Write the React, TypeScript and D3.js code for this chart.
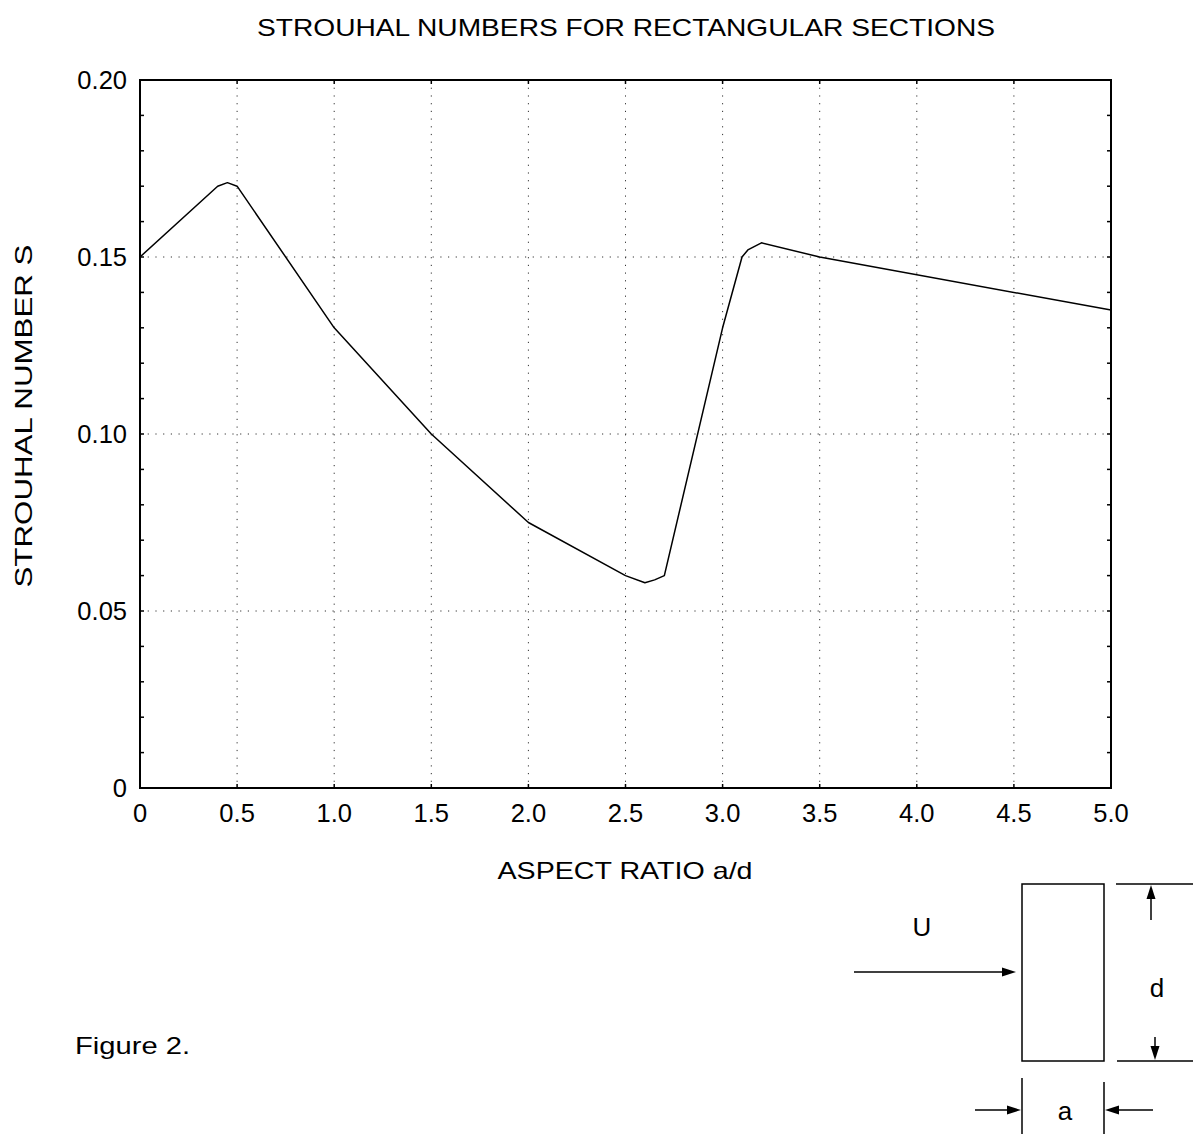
import React from "react";
import * as d3 from "d3";

// aspect ratio a/d vs Strouhal number
const ratio = [0, 0.4, 0.45, 0.5, 1.0, 1.5, 2.0, 2.5, 2.6, 2.65, 2.7, 3.0, 3.1, 3.13, 3.2, 3.5, 5.0];
const strouhal = [0.15, 0.17, 0.171, 0.17, 0.13, 0.1, 0.075, 0.06, 0.058, 0.0588, 0.06, 0.13, 0.15, 0.152, 0.154, 0.15, 0.135];

const xTicks = [0, 0.5, 1.0, 1.5, 2.0, 2.5, 3.0, 3.5, 4.0, 4.5, 5.0];
const yTicks = [0, 0.05, 0.1, 0.15, 0.2];
const yMinor = d3.range(0, 21).map((i) => i / 100);

const title = "STROUHAL NUMBERS FOR RECTANGULAR SECTIONS";
const xTitle = "ASPECT RATIO a/d";
const yTitle = "STROUHAL NUMBER S";

const W = 1199;
const H = 1134;
const left = 140, right = 1111, top = 80, bottom = 788;
const font = "'Liberation Sans', Arial, sans-serif";

function Arrow({ x1, y1, x2, y2 }: { x1: number; y1: number; x2: number; y2: number }) {
  // line with a filled head at (x2,y2)
  const ang = Math.atan2(y2 - y1, x2 - x1);
  const len = 14, half = 4.5;
  const bx = x2 - len * Math.cos(ang), by = y2 - len * Math.sin(ang);
  const px = -Math.sin(ang) * half, py = Math.cos(ang) * half;
  return (
    <g>
      <line x1={x1} y1={y1} x2={bx} y2={by} stroke="#000" strokeWidth={1.5} />
      <path d={`M${x2},${y2}L${bx + px},${by + py}L${bx - px},${by - py}Z`} fill="#000" />
    </g>
  );
}

export default function App() {
  const x = d3.scaleLinear().domain([0, 5]).range([left, right]);
  const y = d3.scaleLinear().domain([0, 0.2]).range([bottom, top]);
  const line = d3
    .line<number>()
    .x((_, i) => x(ratio[i]))
    .y((d) => y(d));

  const fmtY = (v: number) => (v === 0 ? "0" : d3.format(".2f")(v));
  const fmtX = (v: number) => (v === 0 ? "0" : d3.format(".1f")(v));

  return (
    <svg
      width={W}
      height={H}
      style={{ position: "absolute", left: 0, top: 0, background: "#fff" }}
      fontFamily={font}
    >
      <rect width={W} height={H} fill="#fff" />
      <text x={626} y={36} fontSize={24} textAnchor="middle" textLength={738} lengthAdjust="spacingAndGlyphs">
        {title}
      </text>

      {/* grid */}
      {xTicks.slice(1, -1).map((t) => (
        <line key={"gx" + t} x1={x(t)} x2={x(t)} y1={top} y2={bottom} stroke="#333" strokeWidth={1} strokeDasharray="1.2,6.5" />
      ))}
      {yTicks.slice(1, -1).map((t) => (
        <line key={"gy" + t} x1={left} x2={right} y1={y(t)} y2={y(t)} stroke="#333" strokeWidth={1} strokeDasharray="1.2,6.5" />
      ))}

      {/* inward ticks */}
      {yMinor.map((t) => (
        <g key={"ty" + t}>
          <line x1={left} x2={left + 4} y1={y(t)} y2={y(t)} stroke="#000" strokeWidth={1.5} />
          <line x1={right} x2={right - 4} y1={y(t)} y2={y(t)} stroke="#000" strokeWidth={1.5} />
        </g>
      ))}
      {xTicks.map((t) => (
        <g key={"tx" + t}>
          <line x1={x(t)} x2={x(t)} y1={bottom} y2={bottom - 4} stroke="#000" strokeWidth={1.5} />
          <line x1={x(t)} x2={x(t)} y1={top} y2={top + 4} stroke="#000" strokeWidth={1.5} />
        </g>
      ))}

      <rect x={left} y={top} width={right - left} height={bottom - top} fill="none" stroke="#000" strokeWidth={2} />

      <path d={line(strouhal) ?? ""} fill="none" stroke="#000" strokeWidth={1.5} strokeLinejoin="round" />

      {/* tick labels */}
      {yTicks.map((t) => (
        <text key={"ly" + t} x={left - 13} y={y(t) + 9} fontSize={25.5} textAnchor="end">
          {fmtY(t)}
        </text>
      ))}
      {xTicks.map((t) => (
        <text key={"lx" + t} x={x(t)} y={bottom + 34} fontSize={25.5} textAnchor="middle">
          {fmtX(t)}
        </text>
      ))}

      <text x={625} y={879} fontSize={24} textAnchor="middle" textLength={255} lengthAdjust="spacingAndGlyphs">
        {xTitle}
      </text>
      <text
        transform={`translate(32,416) rotate(-90)`}
        fontSize={24}
        textAnchor="middle"
        textLength={343}
        lengthAdjust="spacingAndGlyphs"
      >
        {yTitle}
      </text>

      <text x={75} y={1054} fontSize={24} textLength={115} lengthAdjust="spacingAndGlyphs">
        Figure 2.
      </text>

      {/* section sketch */}
      <rect x={1022} y={884} width={82} height={177} fill="none" stroke="#000" strokeWidth={1.5} />
      <text x={922} y={936} fontSize={26} textAnchor="middle">U</text>
      <Arrow x1={854} y1={972} x2={1016} y2={972} />
      <line x1={1116} x2={1193} y1={884} y2={884} stroke="#000" strokeWidth={1.5} />
      <line x1={1117} x2={1193} y1={1061} y2={1061} stroke="#000" strokeWidth={1.5} />
      <Arrow x1={1151} y1={920} x2={1151} y2={885} />
      <Arrow x1={1155} y1={1037} x2={1155} y2={1060} />
      <text x={1157} y={997} fontSize={26} textAnchor="middle">d</text>
      <line x1={1022} x2={1022} y1={1078} y2={1134} stroke="#000" strokeWidth={1.5} />
      <line x1={1104} x2={1104} y1={1082} y2={1134} stroke="#000" strokeWidth={1.5} />
      <Arrow x1={975} y1={1110} x2={1021} y2={1110} />
      <Arrow x1={1153} y1={1110} x2={1105} y2={1110} />
      <text x={1065} y={1120} fontSize={26} textAnchor="middle">a</text>
    </svg>
  );
}
